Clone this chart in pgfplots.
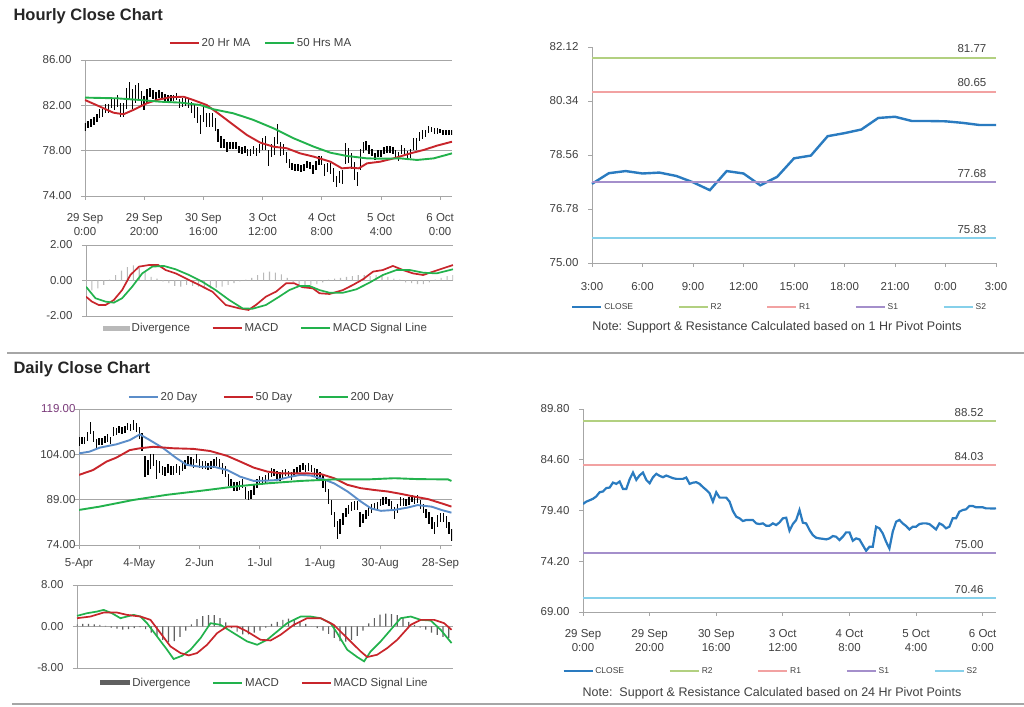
\documentclass[border=0pt]{standalone}
\usepackage{pgfplots}
\pgfplotsset{compat=1.18}
\usepackage{pgfplotstable}
\usepackage{fontspec}
\setmainfont{Liberation Sans}
\definecolor{txt}{HTML}{404040}
\definecolor{gridc}{HTML}{A6A6A6}
\definecolor{mared}{HTML}{C8252B}
\definecolor{magreen}{HTML}{22B24C}
\definecolor{closeblue}{HTML}{2A7BC0}
\definecolor{rtwo}{HTML}{B2D080}
\definecolor{rone}{HTML}{F2A2A2}
\definecolor{sone}{HTML}{A48FCB}
\definecolor{stwo}{HTML}{86D0EA}
\definecolor{dblue}{HTML}{5B8DC9}
\newcommand{\tickfont}{\fontsize{11.5}{14}\selectfont}

\pgfplotstableread{
h c e
0 80.07 0.35
1 80.31 0.35
2 80.45 0.35
3 80.60 0.35
4 80.85 0.35
5 81.27 0.4
6 81.35 0.35
7 81.70 0.4
8 81.75 0.4
9 82.26 0.5
10 82.13 0.5
11 82.37 0.5
12 81.61 0.6
13 81.61 0.6
14 82.60 0.9
15 83.29 0.8
16 82.54 0.9
17 83.00 0.8
18 83.29 0.7
19 82.54 0.7
20 82.19 0.6
21 82.80 0.6
22 83.16 0.4
23 82.95 0.4
24 82.81 0.35
25 82.98 0.35
26 82.85 0.3
27 82.71 0.3
28 82.64 0.3
29 82.64 0.3
30 82.64 0.3
31 82.78 0.3
32 82.13 0.4
33 82.25 0.4
34 82.30 0.35
35 82.13 0.4
36 81.80 0.5
37 81.51 0.6
38 81.17 0.7
39 80.31 0.8
40 81.27 0.7
41 80.72 0.6
42 80.72 0.6
43 80.72 0.6
44 80.31 0.6
45 79.35 0.6
46 78.77 0.5
47 78.60 0.4
48 78.32 0.4
49 78.43 0.3
50 78.43 0.3
51 78.43 0.3
52 78.08 0.3
53 78.01 0.3
54 78.08 0.3
55 77.84 0.35
56 77.84 0.35
57 78.08 0.35
58 77.91 0.35
59 78.18 0.4
60 78.60 0.5
61 78.66 0.6
62 77.33 0.7
63 78.01 0.6
64 78.43 0.8
65 79.45 0.9
66 78.15 0.6
67 78.08 0.5
68 77.40 0.5
69 76.88 0.4
70 76.61 0.3
71 76.54 0.3
72 76.50 0.3
73 76.44 0.3
74 76.54 0.3
75 76.78 0.3
76 76.71 0.3
77 76.37 0.4
78 76.71 0.4
79 77.16 0.4
80 77.16 0.4
81 76.30 0.5
82 76.54 0.4
83 76.44 0.5
84 75.85 0.6
85 75.27 0.5
86 75.68 0.5
87 75.68 0.6
88 77.74 0.9
89 77.57 0.7
90 77.05 0.7
91 76.20 0.8
92 75.51 0.6
93 77.23 0.9
94 78.25 0.5
95 78.43 0.4
96 78.08 0.4
97 77.81 0.3
98 77.46 0.3
99 77.74 0.3
100 77.74 0.3
101 78.01 0.3
102 78.08 0.3
103 78.08 0.3
104 78.01 0.3
105 77.74 0.35
106 77.46 0.4
107 78.08 0.4
108 77.91 0.35
109 77.57 0.4
110 77.74 0.4
111 78.60 0.5
112 78.60 0.5
113 79.28 0.4
114 79.45 0.4
115 79.52 0.3
116 79.86 0.3
117 79.86 0.25
118 79.73 0.25
119 79.73 0.25
120 79.73 0.2
121 79.62 0.2
122 79.62 0.2
123 79.60 0.2
124 79.62 0.2
}\hourly

\pgfplotstableread{
h v
0 -0.5
2 -0.55
4 -0.45
6 -0.25
8 0.05
10 0.3
12 0.55
14 0.75
16 0.85
18 0.7
20 0.5
22 0.2
24 0.1
26 -0.05
28 -0.15
30 -0.3
32 -0.35
34 -0.25
36 -0.3
38 -0.35
40 -0.4
42 -0.45
44 -0.4
46 -0.35
48 -0.25
50 -0.15
52 -0.05
54 0.05
56 0.15
58 0.3
60 0.45
62 0.5
64 0.45
66 0.35
68 0.15
70 -0.1
72 -0.25
74 -0.3
76 -0.25
78 -0.2
80 -0.1
82 0.05
84 0.1
86 0.15
88 0.2
90 0.25
92 0.3
94 0.3
96 0.25
98 0.3
100 0.25
102 0.2
104 0.1
106 0.05
108 -0.1
110 -0.15
112 -0.2
114 -0.2
116 -0.1
118 0.05
120 0.15
122 0.25
124 0.3
}\hdiv

\pgfplotstableread{
d c e
0 108.2 1.5
1 108.5 1.2
2 108.7 1.2
3 109.8 1.5
4 112.6 2.0
5 109.8 1.8
6 107.6 1.5
7 108.2 1.2
8 108.2 1.2
9 109.0 1.2
10 109.4 1.2
11 108.7 1.2
12 111.5 1.5
13 111.5 1.2
14 112.3 1.2
15 112.0 1.2
16 112.3 1.2
17 113.2 1.2
18 113.0 1.2
19 113.7 1.5
20 113.0 1.5
21 111.0 2.0
22 108.0 3.0
23 99.9 3.5
24 99.5 2.5
25 101.6 2.5
26 102.1 2.0
27 99.0 3.0
28 99.9 2.0
29 98.8 1.5
30 98.3 1.5
31 99.4 1.5
32 98.8 1.5
33 98.5 1.5
34 99.4 1.5
35 98.8 1.5
36 99.9 1.5
37 100.5 1.5
38 102.1 1.5
39 101.6 1.5
40 101.0 1.5
41 102.7 1.5
42 101.0 1.5
43 100.5 1.2
44 100.5 1.2
45 99.9 1.2
46 100.5 1.2
47 101.0 1.5
48 101.6 1.5
49 101.0 1.5
50 99.4 1.8
51 98.3 1.8
52 95.5 2.0
53 94.4 1.5
54 93.5 1.5
55 93.3 1.5
56 93.8 1.5
57 94.4 1.5
58 91.1 2.0
59 90.5 1.5
60 90.8 1.5
61 92.2 1.5
62 94.4 1.5
63 95.5 1.2
64 95.2 1.2
65 95.8 1.2
66 96.6 1.2
67 98.0 1.5
68 97.9 1.2
69 97.0 1.5
70 96.8 1.5
71 97.2 1.5
72 98.1 1.2
73 97.4 1.2
74 96.8 1.2
75 97.8 1.2
76 98.6 1.2
77 99.2 1.2
78 99.9 1.2
79 99.4 1.2
80 99.8 1.2
81 99.2 1.2
82 98.0 1.5
83 97.5 1.5
84 96.8 1.5
85 95.0 2.0
86 93.5 2.0
87 90.0 2.5
88 86.5 2.5
89 82.5 2.5
90 79.0 3.0
91 80.0 2.5
92 82.5 2.0
93 84.8 1.5
94 85.8 1.5
95 86.8 1.5
96 87.2 1.5
97 87.2 1.5
98 82.5 2.5
99 82.8 1.5
100 84.0 1.5
101 85.0 1.5
102 86.0 1.5
103 86.7 1.2
104 87.0 1.2
105 88.0 1.2
106 88.6 1.2
107 88.7 1.2
108 88.0 1.2
109 87.2 1.5
110 84.5 2.0
111 86.0 1.5
112 88.5 1.5
113 88.2 1.2
114 88.0 1.2
115 88.6 1.2
116 89.4 1.2
117 88.9 1.2
118 89.2 1.2
119 87.5 1.5
120 86.0 1.5
121 84.5 1.5
122 83.0 2.0
123 81.2 2.0
124 79.5 2.0
125 82.0 2.0
126 83.2 1.5
127 83.0 1.5
128 81.5 2.0
129 79.5 2.0
130 77.3 2.0
}\daily

\pgfplotstableread{
d v
0 0.4
2 0.5
4 0.5
6 0.4
8 0.3
10 0.1
12 -0.2
14 -0.4
16 -0.6
18 -0.5
20 -0.3
22 -0.1
24 -0.5
26 -1.2
28 -2.0
30 -2.6
32 -3.0
34 -2.8
36 -2.0
38 -0.8
40 0.4
42 1.4
44 2.0
46 2.2
48 2.2
50 1.6
52 0.8
54 -0.3
56 -1.0
58 -1.5
60 -1.5
62 -1.2
64 -0.8
66 -0.2
68 0.5
70 0.9
72 1.3
74 1.5
76 1.4
78 1.0
80 0.5
82 0.0
84 -0.3
86 -0.8
88 -1.4
90 -2.2
92 -2.8
94 -2.9
96 -2.6
98 -1.8
100 -0.8
102 0.6
104 1.6
106 2.3
108 2.5
110 2.4
112 2.2
114 1.6
116 0.9
118 0.3
120 -0.2
122 -0.6
124 -1.2
126 -1.6
128 -2.0
130 -2.2
}\ddiv

\pgfplotsset{
 base/.style={
  scale only axis, anchor=south west,
  axis x line*=bottom, axis y line*=left,
  axis line style={draw=gridc, line width=0.8pt},
  tick style={draw=gridc, line width=0.8pt},
  major tick length=4pt, tick align=outside,
  tick label style={font=\tickfont, text=txt},
  yticklabel style={/pgf/number format/fixed, /pgf/number format/fixed zerofill, /pgf/number format/precision=2, xshift=-6pt},
  /pgf/number format/assume math mode=true,
  major grid style={draw=gridc, line width=0.8pt},
  legend style={draw=none, fill=none, font=\tickfont, text=txt, legend columns=-1, inner sep=1pt},
  legend cell align=left,
  legend image code/.code={\draw[##1, line width=1.6pt] (0pt,0pt) -- (29pt,0pt);},
 },
 pivlegend/.style={legend style={font=\fontsize{8.5}{10}\selectfont, /tikz/every even column/.append style={column sep=43pt}}},
}

\begin{document}
\begin{tikzpicture}[x=1pt,y=1pt]
\useasboundingbox (0,0) rectangle (1024,706);
\fill[white] (0,0) rectangle (1024,706);

% ---------- Panel 1: hourly price ----------
\begin{axis}[base, at={(85pt,510pt)}, width=367pt, height=136pt,
  xmin=0, xmax=124, ymin=74, ymax=86, ytick={74,78,82,86}, ymajorgrids,
  xtick={0,20,...,120},
  xticklabels={{29 Sep\\0:00},{29 Sep\\20:00},{30 Sep\\16:00},{3 Oct\\12:00},{4 Oct\\8:00},{5 Oct\\4:00},{6 Oct\\0:00}},
  xticklabel style={align=center, yshift=-10pt},
  legend style={at={(0.48,1.125)}, anchor=center, /tikz/every even column/.append style={column sep=12pt}}]
\addplot[forget plot, draw=none, mark=none, error bars/.cd, y dir=both, y explicit, error mark=none,
  error bar style={draw=black, line width=1.4pt}] table[x=h, y=c, y error=e] {\hourly};
\addplot[mared, line width=1.9pt] coordinates {(0,82.47) (5.1,81.88) (9.6,81.35) (13,81.21) (16.3,81.59) (20.9,82.18) (24.2,82.47) (28.7,82.71) (33.3,82.76) (36.6,82.47) (41.1,82.03) (45.7,81.15) (50.2,80.26) (54.7,79.38) (59.2,78.71) (63.7,78.35) (68.2,78.21) (72.7,77.76) (77.3,77.47) (82.9,77.03) (86.8,76.44) (89.6,76.50) (92.5,76.44) (95.3,76.88) (99.8,77.03) (104.3,77.32) (109.9,77.76) (114.4,78.06) (118.9,78.44) (124,78.79)};
\addlegendentry{20 Hr MA}
\addplot[magreen, line width=1.9pt] coordinates {(0,82.68) (10.7,82.62) (18.6,82.47) (25.4,82.32) (32.1,82.24) (38.9,82.03) (43.4,81.65) (50.2,81.29) (56.9,80.71) (63.7,79.97) (70.5,79.09) (77.3,78.35) (82.9,77.82) (88.5,77.53) (95.3,77.32) (100.9,77.29) (106.5,77.32) (112.2,77.18) (117.8,77.32) (124,77.76)};
\addlegendentry{50 Hrs MA}
\end{axis}

% ---------- Panel 2: hourly MACD ----------
\begin{axis}[base, at={(86pt,390pt)}, width=367pt, height=71pt,
  xmin=0, xmax=124, ymin=-2, ymax=2, ytick={-2,0,2}, ymajorgrids, xtick=\empty,
  legend style={at={(0.49,-0.17)}, anchor=center, /tikz/every even column/.append style={column sep=20pt}}]
\addplot[ybar, bar width=1.1pt, bar shift=0pt, fill=gray!55, draw=none,
  legend image code/.code={\fill[gray!55] (0pt,-2.5pt) rectangle (27pt,2.5pt);}] table[x=h, y=v] {\hdiv};
\addlegendentry{Divergence}
\addplot[mared, line width=1.7pt] coordinates {(0,-0.91) (2,-1.19) (4.3,-1.38) (6.6,-1.38) (9.4,-1.10) (12.2,-0.54) (15,0.31) (17.9,0.78) (21.2,0.87) (24.4,0.87) (26.9,0.59) (30.3,0.40) (33.7,0.12) (38.2,-0.25) (42.7,-0.63) (47.2,-1.38) (51.8,-1.57) (54.9,-1.66) (57.4,-1.38) (60.8,-0.91) (64.2,-0.63) (67.6,-0.16) (70.4,-0.16) (73.2,-0.38) (76.6,-0.44) (78.9,-0.72) (82.3,-0.76) (86.8,-0.54) (90.2,-0.25) (93.6,0.07) (97,0.50) (100.3,0.59) (103.7,0.82) (107.1,0.59) (110.5,0.40) (113.9,0.31) (117.3,0.50) (120.7,0.69) (124,0.87)};
\addlegendentry{MACD}
\addplot[magreen, line width=1.7pt] coordinates {(0,-0.35) (3.2,-1.0) (6.6,-1.19) (9.4,-1.25) (12.2,-1.0) (15.6,-0.35) (19,0.40) (22.4,0.78) (26.3,0.82) (30.3,0.63) (34.8,0.31) (39.3,-0.07) (43.8,-0.54) (48.4,-1.10) (52.9,-1.57) (56.3,-1.59) (60.8,-1.38) (65.3,-0.91) (68.7,-0.54) (72.1,-0.31) (75.5,-0.31) (78.9,-0.54) (82.3,-0.69) (86.8,-0.69) (91.3,-0.50) (95.8,-0.12) (100.3,0.31) (104.9,0.59) (109.4,0.59) (113.9,0.44) (118.4,0.40) (124,0.63)};
\addlegendentry{MACD Signal Line}
\end{axis}

% ---------- Panel 3: hourly pivots ----------
\begin{axis}[base, pivlegend, clip=false, at={(592pt,443pt)}, width=404pt, height=216pt,
  xmin=0, xmax=24, ymin=75, ymax=82.12, ytick={75,76.78,78.56,80.34,82.12},
  xtick={0,3,...,24}, xticklabels={3:00,6:00,9:00,12:00,15:00,18:00,21:00,0:00,3:00},
  xticklabel style={yshift=-12pt},
  legend style={at={(0.465,-0.205)}, anchor=center}]
\addplot[closeblue, line width=2.4pt] coordinates {(0,77.61) (1,77.96) (2,78.03) (3,77.95) (4,77.98) (5,77.87) (6,77.66) (7,77.40) (8,78.03) (9,77.95) (10,77.56) (11,77.84) (12,78.45) (13,78.54) (14,79.18) (15,79.28) (16,79.40) (17,79.78) (18,79.82) (19,79.68) (20,79.68) (21,79.67) (22,79.62) (23,79.55) (24,79.55)};
\addlegendentry{CLOSE}
\addplot[rtwo, line width=2pt] coordinates {(0,81.77) (24,81.77)}; \addlegendentry{R2}
\addplot[rone, line width=2pt] coordinates {(0,80.65) (24,80.65)}; \addlegendentry{R1}
\addplot[sone, line width=2pt] coordinates {(0,77.68) (24,77.68)}; \addlegendentry{S1}
\addplot[stwo, line width=2pt] coordinates {(0,75.83) (24,75.83)}; \addlegendentry{S2}
\node[above, font=\tickfont, text=txt, yshift=1pt] at (axis cs:22.57,81.77) {81.77};
\node[above, font=\tickfont, text=txt, yshift=1pt] at (axis cs:22.57,80.65) {80.65};
\node[above, font=\tickfont, text=txt, yshift=1pt] at (axis cs:22.57,77.68) {77.68};
\node[above, font=\tickfont, text=txt, yshift=1pt] at (axis cs:22.57,75.83) {75.83};
\end{axis}

% ---------- Panel 4: daily price ----------
\begin{axis}[base, at={(79pt,161pt)}, width=373pt, height=136pt,
  xmin=0, xmax=130, ymin=74, ymax=119, ytick={74,89,104,119}, ymajorgrids,
  yticklabels={74.00,89.00,104.00,{\color[HTML]{7A3A7A}119.00}},
  yticklabel style={xshift=10pt},
  xtick={0,21,42,63,84,105,126}, xticklabels={5-Apr,4-May,2-Jun,1-Jul,1-Aug,30-Aug,28-Sep},
  xticklabel style={yshift=-6pt},
  legend style={at={(0.49,1.088)}, anchor=center, /tikz/every even column/.append style={column sep=24pt}}]
\addplot[forget plot, draw=none, mark=none, error bars/.cd, y dir=both, y explicit, error mark=none,
  error bar style={draw=black, line width=1.4pt}] table[x=d, y=c, y error=e] {\daily};
\addplot[dblue, line width=1.9pt] coordinates {(0,104.3) (3.7,104.9) (7.2,106.2) (13,107.3) (17.7,108.7) (21.2,110.6) (24.7,108.7) (29.4,106.0) (34,102.7) (37.6,100.5) (42.2,99.9) (46.9,99.9) (51.6,98.8) (56.2,96.6) (60.9,95.2) (65.6,95.3) (69,95.5) (73.7,96.6) (77.2,97.2) (80.7,97.0) (84.2,96.1) (88.9,94.4) (93.6,91.7) (98.2,88.4) (101.8,86.1) (105.2,85.3) (109.9,85.6) (114.6,86.4) (118,87.2) (122.8,86.7) (126.3,85.6) (129.8,84.7)};
\addlegendentry{20 Day}
\addplot[mared, line width=1.9pt] coordinates {(0,97.2) (4.9,98.8) (9.6,101.6) (13,102.9) (17.7,105.4) (21.2,106.0) (25.9,106.5) (32.9,106.0) (39.9,105.8) (45.7,105.1) (51.6,103.5) (56.2,101.6) (60.9,99.6) (65.6,98.3) (70.2,97.7) (74.9,97.7) (79.6,97.7) (84.2,97.5) (88.9,96.1) (93.6,93.9) (98.2,92.8) (102.9,92.2) (107.6,91.7) (112.3,90.9) (116.9,90.0) (121.6,89.2) (126.3,87.8) (129.8,86.7)};
\addlegendentry{50 Day}
\addplot[magreen, line width=1.9pt] coordinates {(0,85.6) (7.2,86.7) (18.9,88.9) (30.6,90.6) (42.2,91.9) (53.9,93.3) (65.6,94.4) (77.2,95.2) (84.2,95.5) (88.9,95.7) (100.6,95.7) (109.9,96.1) (118,95.8) (128.6,95.7) (129.8,95.2)};
\addlegendentry{200 Day}
\end{axis}

% ---------- Panel 5: daily MACD ----------
\begin{axis}[base, at={(77pt,38pt)}, width=376pt, height=83pt,
  xmin=0, xmax=131.5, ymin=-8, ymax=8, ytick={-8,0,8}, ymajorgrids, xtick=\empty,
  legend style={at={(0.5,-0.18)}, anchor=center, /tikz/every even column/.append style={column sep=20pt}}]
\addplot[ybar, bar width=1.2pt, bar shift=0pt, fill=gray!75!black, draw=none,
  legend image code/.code={\fill[gray!75!black] (0pt,-2.5pt) rectangle (30pt,2.5pt);}] table[x=d, y=v] {\ddiv};
\addlegendentry{Divergence}
\addplot[magreen, line width=1.7pt] coordinates {(0,2.05) (3.5,2.56) (7,2.88) (9.3,3.2) (12.2,2.56) (15.2,1.6) (17.5,1.92) (19.8,2.24) (22.2,1.92) (24.5,0.64) (28,-1.92) (31.5,-4.48) (33.8,-6.27) (36.8,-5.63) (39.7,-4.48) (43.2,-2.24) (46.7,0.64) (50.2,0.32) (54.8,-1.28) (59.5,-2.88) (63,-3.52) (66.5,-2.56) (70,-0.96) (73.5,0.64) (78.2,1.92) (81.7,1.92) (85.2,1.6) (88.7,0.64) (91,-1.28) (94.5,-4.48) (98,-5.89) (100.4,-6.72) (102.7,-4.8) (106.2,-2.88) (109.7,-0.64) (113.2,1.6) (116.7,1.92) (120.2,1.28) (123.7,1.15) (127.2,-0.64) (131,-3.2)};
\addlegendentry{MACD}
\addplot[mared, line width=1.7pt] coordinates {(0,1.6) (4.7,1.92) (9.3,2.69) (14,2.69) (17.5,2.24) (22.2,1.92) (25.7,1.28) (29.2,-1.28) (32.7,-3.84) (36.2,-5.12) (39.1,-5.57) (42,-5.12) (45.5,-3.52) (49,-1.28) (52.5,0) (56,0) (59.5,-0.96) (64.2,-2.56) (67.7,-2.69) (71.2,-1.6) (75.8,0.32) (80.5,1.6) (85.2,1.6) (89.8,0.32) (94.5,-2.24) (99.2,-4.8) (101.5,-5.89) (105,-5.44) (108.5,-4.16) (112,-2.56) (116.7,0.32) (120.2,1.28) (124.9,1.28) (128.4,0.64) (131,-0.64)};
\addlegendentry{MACD Signal Line}
\end{axis}

% ---------- Panel 6: daily pivots (hourly close) ----------
\begin{axis}[base, pivlegend, at={(583pt,94pt)}, width=413pt, height=203pt,
  xmin=0, xmax=124, ymin=69, ymax=89.8, ytick={69,74.2,79.4,84.6,89.8},
  xtick={0,20,...,120},
  xticklabels={{29 Sep\\0:00},{29 Sep\\20:00},{30 Sep\\16:00},{3 Oct\\12:00},{4 Oct\\8:00},{5 Oct\\4:00},{6 Oct\\0:00}},
  xticklabel style={align=center, yshift=-10pt},
  legend style={at={(0.455,-0.29)}, anchor=center}]
\addplot[closeblue, line width=2.2pt] table[x=h, y=c] {\hourly};
\addlegendentry{CLOSE}
\addplot[rtwo, line width=2pt] coordinates {(0,88.52) (124,88.52)}; \addlegendentry{R2}
\addplot[rone, line width=2pt] coordinates {(0,84.03) (124,84.03)}; \addlegendentry{R1}
\addplot[sone, line width=2pt] coordinates {(0,75.00) (124,75.00)}; \addlegendentry{S1}
\addplot[stwo, line width=2pt] coordinates {(0,70.46) (124,70.46)}; \addlegendentry{S2}
\node[above, font=\tickfont, text=txt, yshift=1pt] at (axis cs:115.9,88.52) {88.52};
\node[above, font=\tickfont, text=txt, yshift=1pt] at (axis cs:115.9,84.03) {84.03};
\node[above, font=\tickfont, text=txt, yshift=1pt] at (axis cs:115.9,75.00) {75.00};
\node[above, font=\tickfont, text=txt, yshift=1pt] at (axis cs:115.9,70.46) {70.46};
\end{axis}

% ---------- titles, notes, separators ----------
\node[anchor=west, font=\bfseries\fontsize{16.5}{19}\selectfont, text=black!85] at (10,690) {Hourly Close Chart};
\node[anchor=west, font=\bfseries\fontsize{16.5}{19}\selectfont, text=black!85] at (10,337) {Daily Close Chart};
\node[font=\fontsize{12.5}{14}\selectfont, text=txt] at (777,379) {Note: Support \& Resistance Calculated based on 1 Hr Pivot Points};
\node[font=\fontsize{12.5}{14}\selectfont, text=txt] at (772,13) {Note:\ \ Support \& Resistance Calculated based on 24 Hr Pivot Points};
\draw[gridc, line width=1.5pt] (7,353) -- (1024,353);
\draw[gridc, line width=1.5pt] (12,2) -- (1024,2);
\end{tikzpicture}
\end{document}
